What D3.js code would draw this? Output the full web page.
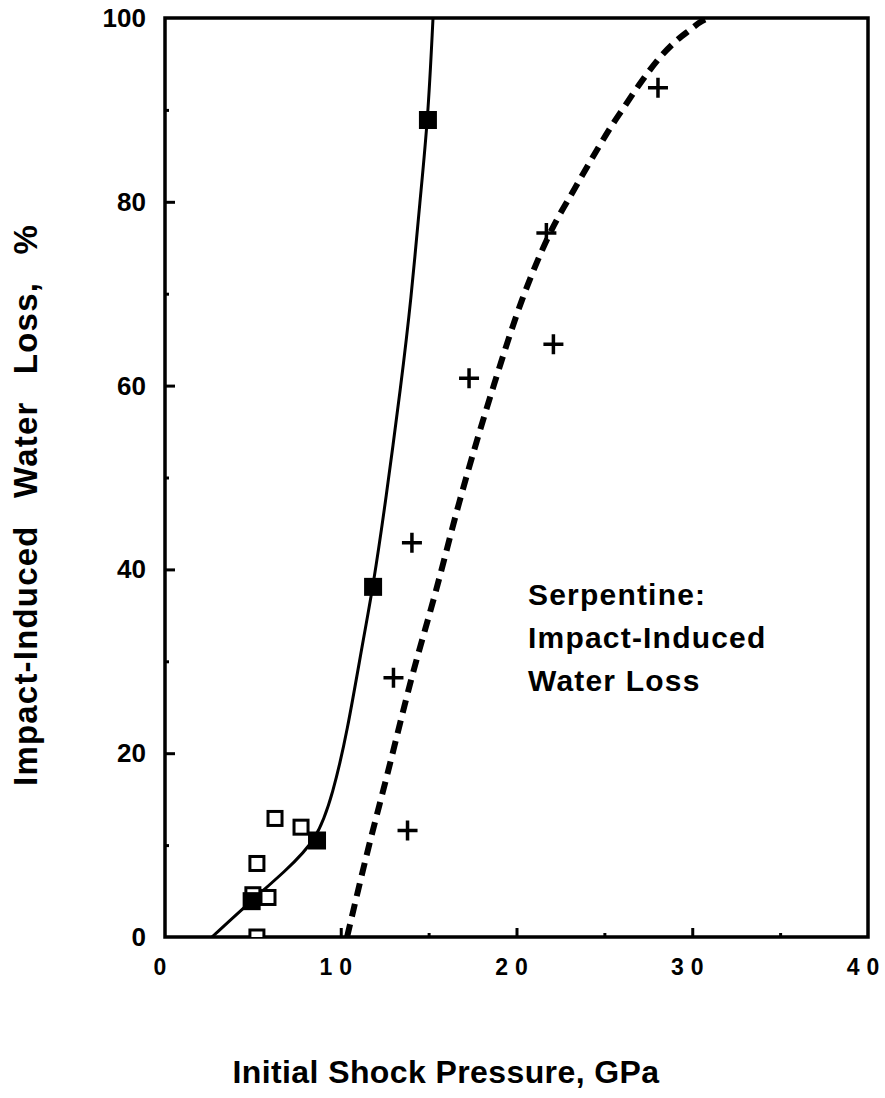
<!DOCTYPE html>
<meta charset="utf-8">
<head>
  <script src="https://d3js.org/d3.v7.min.js"></script>
  <style>
    body { margin: 0; background: #fff; }
    text { font-family: "Liberation Sans", Arial, sans-serif; font-weight: bold; fill: #000; }
  </style>
</head>
<html>
  <body>
    <div id="chart"></div>
  </body>
</html>
<script>
  // data (pressure in GPa, water loss in %)
  const filledX = [4.93, 8.65, 11.84, 14.96];
  const filledY = [3.9, 10.5, 38.1, 88.9];

  const openX = [5.0, 5.86, 5.23, 6.26, 7.74, 5.23];
  const openY = [4.6, 4.3, 8.0, 12.9, 11.95, 0.0];

  const plusX = [13.8, 13.0, 14.05, 17.3, 22.1, 21.7, 28.05];
  const plusY = [11.6, 28.2, 42.9, 60.8, 64.5, 76.6, 92.4];

  // fitted curves
  const solidX = [2.67, 4.89, 6.77, 8.65, 9.56, 10.36, 11.27, 11.84, 12.57, 13.43, 14.0, 14.51, 14.96, 15.25];
  const solidY = [0, 3.9, 7.05, 10.5, 15.65, 22.2, 32.3, 38.1, 47.6, 60.1, 69.3, 80.2, 88.9, 100];

  const dashX = [10.36, 11.55, 12.57, 14.05, 15.42, 16.73, 18.72, 20.31, 21.91, 23.33, 24.69, 25.49, 26.12, 26.97, 28.11, 29.08, 29.87, 30.5, 30.95];
  const dashY = [0, 9.5, 17.1, 28.3, 37.7, 47.2, 60.1, 69.3, 76.6, 81.5, 86.0, 88.5, 90.3, 92.7, 95.6, 97.5, 98.7, 99.6, 100];

  const xTicks = [0, 10, 20, 30, 40];
  const yTicks = [0, 20, 40, 60, 80, 100];
  const noteLines = ["Serpentine:", "Impact-Induced", "Water Loss"];

  const W = 885, H = 1098;
  const m = {left: 165, right: 868, top: 18, bottom: 937};

  const svg = d3.select("#chart").append("svg")
    .attr("width", W).attr("height", H);

  const x = d3.scaleLinear().domain([0, 40]).range([m.left, m.right]);
  const y = d3.scaleLinear().domain([0, 100]).range([m.bottom, m.top]);

  svg.append("clipPath").attr("id", "plot")
    .append("rect")
      .attr("x", m.left).attr("y", m.top)
      .attr("width", m.right - m.left).attr("height", m.bottom - m.top);

  const zip = (xs, ys) => xs.map((v, i) => [v, ys[i]]);

  // ticks, pointing inward
  const xMajor = d3.axisTop(x).tickValues([10, 20, 30]).tickSize(9).tickFormat("");
  const xMinor = d3.axisTop(x).tickValues([5, 15, 25, 35]).tickSize(4).tickFormat("");
  const yMajor = d3.axisRight(y).tickValues([20, 40, 60, 80]).tickSize(10).tickFormat("");
  const yMinor = d3.axisRight(y).tickValues([10, 30, 50, 70, 90]).tickSize(4).tickFormat("");

  [xMajor, xMinor].forEach(a => svg.append("g")
    .attr("transform", `translate(0,${m.bottom})`).call(a)
    .call(g => g.select(".domain").remove())
    .selectAll("line").attr("stroke", "#000").attr("stroke-width", 3));
  [yMajor, yMinor].forEach(a => svg.append("g")
    .attr("transform", `translate(${m.left},0)`).call(a)
    .call(g => g.select(".domain").remove())
    .selectAll("line").attr("stroke", "#000").attr("stroke-width", 3));

  // frame
  svg.append("rect")
    .attr("x", m.left).attr("y", m.top)
    .attr("width", m.right - m.left).attr("height", m.bottom - m.top)
    .attr("fill", "none").attr("stroke", "#000").attr("stroke-width", 3.5);

  // tick labels
  svg.append("g").selectAll("text")
    .data(xTicks).join("text")
      .attr("x", d => x(d) - 1.5)
      .attr("y", 975)
      .attr("text-anchor", "middle")
      .style("font-size", "23px")
      .style("letter-spacing", "7px")
      .text(d => d);

  svg.append("g").selectAll("text")
    .data(yTicks).join("text")
      .attr("x", 146)
      .attr("y", d => y(d) + 9)
      .attr("text-anchor", "end")
      .style("font-size", "26px")
      .text(d => d);

  // curves
  const curves = svg.append("g").attr("clip-path", "url(#plot)");
  curves.append("path")
    .attr("d", d3.line().x(d => x(d[0])).y(d => y(d[1]))
      .curve(d3.curveBasis)(zip(solidX, solidY)))
    .attr("fill", "none").attr("stroke", "#000").attr("stroke-width", 3);
  curves.append("path")
    .attr("d", d3.line().x(d => x(d[0])).y(d => y(d[1]))
      .curve(d3.curveMonotoneX)(zip(dashX, dashY)))
    .attr("fill", "none").attr("stroke", "#000").attr("stroke-width", 6)
    .attr("stroke-dasharray", "13 8");

  // markers
  const marks = svg.append("g").attr("clip-path", "url(#plot)");
  marks.selectAll(".open")
    .data(zip(openX, openY)).join("rect")
      .attr("class", "open")
      .attr("x", d => x(d[0]) - 7).attr("y", d => y(d[1]) - 7)
      .attr("width", 14).attr("height", 14)
      .attr("fill", "#fff").attr("stroke", "#000").attr("stroke-width", 3);
  marks.selectAll(".filled")
    .data(zip(filledX, filledY)).join("rect")
      .attr("class", "filled")
      .attr("x", d => x(d[0]) - 9).attr("y", d => y(d[1]) - 9)
      .attr("width", 18).attr("height", 18)
      .attr("fill", "#000");
  marks.selectAll(".plus")
    .data(zip(plusX, plusY)).join("path")
      .attr("class", "plus")
      .attr("d", d => {
        const cx = x(d[0]), cy = y(d[1]);
        return `M${cx - 10},${cy}H${cx + 10}M${cx},${cy - 10}V${cy + 10}`;
      })
      .attr("stroke", "#000").attr("stroke-width", 3.5);

  // annotation
  svg.append("g").selectAll("text")
    .data(noteLines).join("text")
      .attr("x", 528)
      .attr("y", (d, i) => 605 + i * 43)
      .style("font-size", "30px")
      .style("letter-spacing", "1.2px")
      .text(d => d);

  // axis titles
  svg.append("text")
    .attr("x", 446).attr("y", 1083)
    .attr("text-anchor", "middle")
    .style("font-size", "32px")
    .style("letter-spacing", "0.4px")
    .text("Initial Shock Pressure, GPa");

  svg.append("text")
    .attr("transform", "translate(37,505) rotate(-90)")
    .attr("text-anchor", "middle")
    .style("font-size", "33px")
    .style("letter-spacing", "1.2px")
    .style("word-spacing", "17px")
    .text("Impact-Induced Water Loss, %");
</script>
